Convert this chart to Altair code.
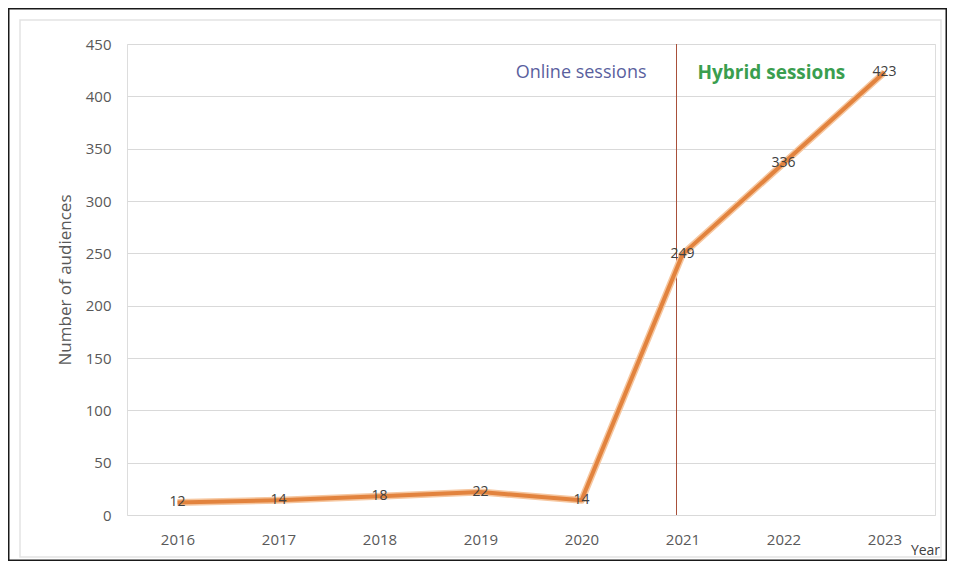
import altair as alt
import pandas as pd

years = ["2016", "2017", "2018", "2019", "2020", "2021", "2022", "2023"]
audiences = [12, 14, 18, 22, 14, 249, 336, 423]

split_year = ["2021"]
ann_text = ["Online sessions", "Hybrid sessions"]
ann_year = ["2021", "2021"]
ann_value = [422, 422]

df = pd.DataFrame({"Year": years, "Audiences": audiences})
ann_df = pd.DataFrame({"Year": ann_year, "v": ann_value, "t": ann_text})
split_df = pd.DataFrame({"Year": split_year})
frame_df = pd.DataFrame({"k": [0]})

W, H = 808, 471
PL, PT, PR, PB = 119, 36, 12, 46
FONT = "Open Sans"

xscale = alt.Scale(type="point", padding=0.5, domain=years)
yscale = alt.Scale(domain=[0, 450], nice=False)

x_axis = alt.Axis(title="Year", labelAngle=0, ticks=False, domain=False,
                  grid=False, labelPadding=17, labelFontSize=15,
                  labelColor="#595959", labelFont=FONT,
                  titleFont=FONT, titleFontSize=14, titleFontWeight="normal",
                  titleColor="#404040", titleX=798, titleY=39,
                  titleAlign="center", titleBaseline="alphabetic")
y_axis = alt.Axis(title="Number of audiences", values=list(range(0, 451, 50)),
                  ticks=False, domain=False, gridColor="#d9d9d9",
                  labelPadding=16, labelFontSize=15, labelColor="#595959",
                  labelFont=FONT, titleFont=FONT, titleFontSize=17,
                  titleFontWeight="normal", titleColor="#595959",
                  titlePadding=11)

x_enc = alt.X("Year:N", sort=years, scale=xscale, axis=x_axis)
y_enc = alt.Y("Audiences:Q", scale=yscale, axis=y_axis)
y_ann = alt.Y("v:Q", scale=yscale, axis=y_axis)

base = alt.Chart(df)

outer = alt.Chart(frame_df).mark_rect(fill=None, stroke="#1a1a1a", strokeWidth=1.5).encode(
    x=alt.value(-PL + 0.75), x2=alt.value(W + PR - 0.75),
    y=alt.value(-PT + 0.75), y2=alt.value(H + PB - 0.75))
inner = alt.Chart(frame_df).mark_rect(fill=None, stroke="#e3e3e3", strokeWidth=1.5).encode(
    x=alt.value(-PL + 12), x2=alt.value(W + PR - 6),
    y=alt.value(-PT + 12), y2=alt.value(H + PB - 4))

glow = base.mark_line(color="#f6c7a0", strokeWidth=7, strokeJoin="round").encode(x=x_enc, y=y_enc)
line = base.mark_line(color="#e2833e", strokeWidth=4, strokeJoin="round").encode(x=x_enc, y=y_enc)

rule = alt.Chart(split_df).mark_rule(color="#a8503a", strokeWidth=1).encode(
    x=x_enc, xOffset=alt.value(-6), y=alt.value(0), y2=alt.value(H))

labels = base.mark_text(fontSize=14, color="#404040", font=FONT, baseline="middle").encode(
    x=x_enc, y=y_enc, text="Audiences:Q")

online = alt.Chart(ann_df[ann_df.t == "Online sessions"]).mark_text(
    align="right", dx=-36, fontSize=18, color="#5a5f9e", font=FONT, baseline="middle").encode(
    x=x_enc, y=y_ann, text="t:N")
hybrid = alt.Chart(ann_df[ann_df.t == "Hybrid sessions"]).mark_text(
    align="left", dx=15, fontSize=19, fontWeight="bold", color="#3a9e4f", font=FONT,
    baseline="middle").encode(
    x=x_enc, y=y_ann, text="t:N")

chart = alt.layer(outer, inner, rule, glow, line, labels, online, hybrid).properties(
    width=W, height=H,
    autosize=alt.AutoSizeParams(type="none"),
    padding={"left": PL, "top": PT, "right": PR, "bottom": PB},
).configure_view(strokeWidth=0).configure(background="white")

chart.save("out.html", embed_options={"renderer": "svg", "actions": False})
